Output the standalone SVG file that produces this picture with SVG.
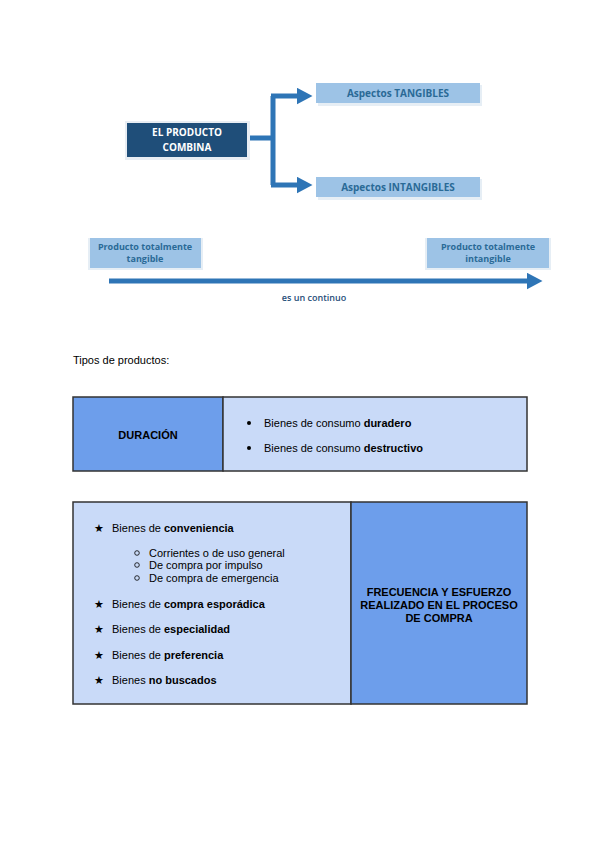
<svg xmlns="http://www.w3.org/2000/svg" width="600" height="848" viewBox="0 0 600 848">
<style>
.cal{font-family:"Open Sans","Liberation Sans",sans-serif;font-weight:bold;font-size:10px;fill:#2a6a96}
.lb{fill:#9dc3e6}
.sh{fill:#e6eef5}
.tx{font-family:"Liberation Sans",Arial,sans-serif;font-size:11px;fill:#000}
.b{font-weight:bold}
.cell{stroke:#333;stroke-width:1.5}
.dk{fill:#6d9eeb}
.lt{fill:#c9daf8}
.con{stroke:#2e75b6;stroke-width:5;fill:none}
</style>
<defs>
<marker id="ah" markerWidth="16" markerHeight="17" refX="0.5" refY="8.5" orient="auto" markerUnits="userSpaceOnUse">
<path d="M0,0 L16,8.5 L0,17 Z" fill="#2e75b6"/>
</marker>
</defs>
<rect width="600" height="848" fill="#fff"/>
<g id="connectors">
<path class="con" d="M247,138 H273 M273,96 V185"/>
<path class="con" d="M271,96 H297" marker-end="url(#ah)"/>
<path class="con" d="M271,185 H297" marker-end="url(#ah)"/>
<path class="con" d="M109,281 H527" marker-end="url(#ah)"/>
</g>
<g id="n-producto">
<rect x="125" y="121" width="125" height="39" fill="#e8edf3"/>
<rect x="127" y="123" width="120" height="34" fill="#1f4e79"/>
<text x="187" y="136" text-anchor="middle" class="cal" style="fill:#fff">EL PRODUCTO</text>
<text x="187" y="151" text-anchor="middle" class="cal" style="fill:#fff">COMBINA</text>
</g>
<g id="n-tangibles">
<rect x="318" y="85" width="164" height="21" class="sh"/>
<rect x="316" y="83" width="164" height="20" class="lb"/>
<text x="398" y="97" text-anchor="middle" class="cal">Aspectos TANGIBLES</text>
</g>
<g id="n-intangibles">
<rect x="318" y="179" width="164" height="21" class="sh"/>
<rect x="316" y="177" width="164" height="20" class="lb"/>
<text x="398" y="191" text-anchor="middle" class="cal">Aspectos INTANGIBLES</text>
</g>
<g id="n-tangible">
<rect x="88" y="238" width="115" height="32" class="sh"/>
<rect x="90" y="238" width="111" height="30" class="lb"/>
<text x="145" y="250" text-anchor="middle" class="cal" style="font-size:9px">Producto totalmente</text>
<text x="145" y="262" text-anchor="middle" class="cal" style="font-size:9px">tangible</text>
</g>
<g id="n-intangible">
<rect x="425" y="238" width="126" height="32" class="sh"/>
<rect x="427" y="238" width="122" height="30" class="lb"/>
<text x="488" y="250" text-anchor="middle" class="cal" style="font-size:9px">Producto totalmente</text>
<text x="488" y="262" text-anchor="middle" class="cal" style="font-size:9px">intangible</text>
</g>
<text x="314" y="301" text-anchor="middle" class="cal" style="font-size:9px;font-weight:600;fill:#1f4e79">es un continuo</text>
<text x="73" y="364" class="tx">Tipos de productos:</text>
<g id="n-duracion">
<rect x="73" y="397" width="150" height="74" class="cell dk"/>
<text x="148" y="439" text-anchor="middle" class="tx b">DURACIÓN</text>
</g>
<g id="n-duracion-list">
<rect x="223" y="397" width="304" height="74" class="cell lt"/>
<circle cx="249" cy="423" r="2" fill="#000"/>
<text x="264" y="427" class="tx">Bienes de consumo <tspan class="b">duradero</tspan></text>
<circle cx="249" cy="448" r="2" fill="#000"/>
<text x="264" y="452" class="tx">Bienes de consumo <tspan class="b">destructivo</tspan></text>
</g>
<g id="n-frecuencia-list">
<rect x="73" y="502" width="278" height="202" class="cell lt"/>
<text x="94" y="532" class="tx">★</text>
<text x="112" y="532" class="tx">Bienes de <tspan class="b">conveniencia</tspan></text>
<circle cx="137" cy="553" r="2.3" fill="none" stroke="#000" stroke-width="0.8"/>
<text x="149" y="557" class="tx">Corrientes o de uso general</text>
<circle cx="137" cy="565" r="2.3" fill="none" stroke="#000" stroke-width="0.8"/>
<text x="149" y="569" class="tx">De compra por impulso</text>
<circle cx="137" cy="578" r="2.3" fill="none" stroke="#000" stroke-width="0.8"/>
<text x="149" y="582" class="tx">De compra de emergencia</text>
<text x="94" y="608" class="tx">★</text>
<text x="112" y="608" class="tx">Bienes de <tspan class="b">compra esporádica</tspan></text>
<text x="94" y="633" class="tx">★</text>
<text x="112" y="633" class="tx">Bienes de <tspan class="b">especialidad</tspan></text>
<text x="94" y="659" class="tx">★</text>
<text x="112" y="659" class="tx">Bienes de <tspan class="b">preferencia</tspan></text>
<text x="94" y="684" class="tx">★</text>
<text x="112" y="684" class="tx">Bienes <tspan class="b">no buscados</tspan></text>
</g>
<g id="n-frecuencia">
<rect x="351" y="502" width="176" height="202" class="cell dk"/>
<text x="439" y="596" text-anchor="middle" class="tx b">FRECUENCIA Y ESFUERZO</text>
<text x="439" y="609" text-anchor="middle" class="tx b">REALIZADO EN EL PROCESO</text>
<text x="439" y="622" text-anchor="middle" class="tx b">DE COMPRA</text>
</g>
</svg>
